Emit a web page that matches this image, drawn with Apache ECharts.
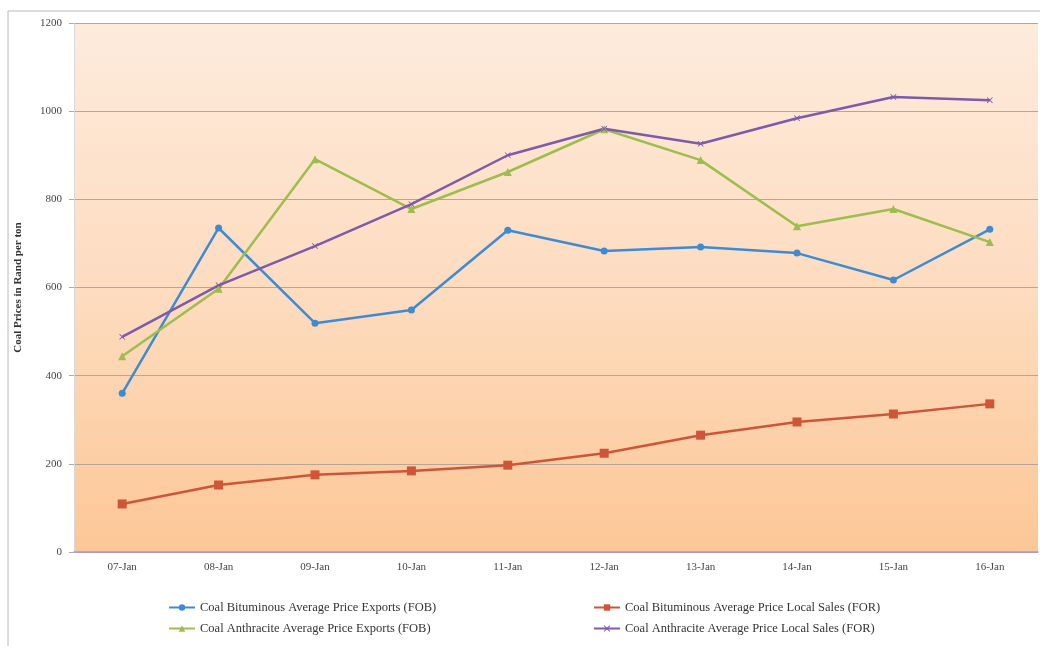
<!DOCTYPE html>
<html>
<head>
<meta charset="utf-8">
<script src="https://cdn.jsdelivr.net/npm/echarts@6/dist/echarts.min.js"></script>
<style>html,body{margin:0;padding:0;background:#fff}#c{width:1040px;height:646px}</style>
</head>
<body>
<div id="c"></div>
<script>
const categories = ['07-Jan','08-Jan','09-Jan','10-Jan','11-Jan','12-Jan','13-Jan','14-Jan','15-Jan','16-Jan'];
const bitExports = [360, 735, 519, 549, 730, 683, 692, 678, 617, 732];
const bitLocal = [109, 152, 175, 184, 197, 224, 265, 295, 313, 336];
const anthExports = [444, 597, 891, 778, 862, 959, 889, 739, 778, 703];
const anthLocal = [488, 605, 694, 789, 900, 960, 926, 984, 1032, 1025];
const yTicks = [0, 200, 400, 600, 800, 1000, 1200];

const names = [
  'Coal Bituminous Average Price Exports (FOB)',
  'Coal Bituminous Average Price Local Sales (FOR)',
  'Coal Anthracite Average Price Exports (FOB)',
  'Coal Anthracite Average Price Local Sales (FOR)'
];
const font = 'Liberation Serif';
const chart = echarts.init(document.getElementById('c'));
const xPath = 'path://M0,1L1,0L5,4L9,0L10,1L6,5L10,9L9,10L5,6L1,10L0,9L4,5Z';
function line(name, data, color, symbol, size) {
  return {
    name, type: 'line', data, symbol, symbolSize: size,
    lineStyle: { color, width: 2.5 },
    itemStyle: { color },
    z: 3
  };
}
chart.setOption({
  animation: false,
  backgroundColor: '#fff',
  textStyle: { fontFamily: font },
  graphic: [{
    type: 'polyline', silent: true,
    shape: { points: [[8, 646], [8, 11], [1040, 11]] },
    style: { stroke: '#b8b8b8', lineWidth: 1, fill: null }
  }],
  grid: { left: 74, right: 2, top: 23, bottom: 94, show: true, borderWidth: 0,
    backgroundColor: {
      type: 'linear', x: 0, y: 0, x2: 0, y2: 1,
      colorStops: [{ offset: 0, color: '#fdebdc' }, { offset: 0.5, color: '#fddcc0' }, { offset: 1, color: '#fcc796' }]
    }
  },
  legend: [{
    left: 163, top: 596, orient: 'vertical', itemGap: 8, itemWidth: 26, itemHeight: 8,
    textStyle: { fontFamily: font, fontSize: 12.5, color: '#333' },
    data: [names[0], names[2]]
  }, {
    left: 588, top: 596, orient: 'vertical', itemGap: 8, itemWidth: 26, itemHeight: 8,
    textStyle: { fontFamily: font, fontSize: 12.5, color: '#333' },
    data: [names[1], names[3]]
  }],
  xAxis: {
    type: 'category', data: categories, boundaryGap: true,
    axisLine: { lineStyle: { color: '#a89cc8', width: 1.5 } },
    axisTick: { show: false },
    axisLabel: { fontFamily: font, fontSize: 11, color: '#444', margin: 10 }
  },
  yAxis: {
    type: 'value', min: 0, max: 1200, interval: 200,
    name: 'Coal Prices in Rand per ton', nameLocation: 'middle', nameGap: 50,
    nameTextStyle: { fontFamily: font, fontSize: 11, fontWeight: 'bold', color: '#333' },
    axisLine: { show: true, lineStyle: { color: '#d8d8d8' } },
    axisTick: { show: true, length: 5, lineStyle: { color: '#aaa' } },
    axisLabel: { fontFamily: font, fontSize: 11, color: '#444', margin: 12,
      formatter: v => yTicks.includes(v) ? String(v) : '' },
    splitLine: { lineStyle: { color: '#b9a594', width: 1 } }
  },
  series: [
    line(names[0], bitExports, '#3f8bd2', 'circle', 7),
    line(names[1], bitLocal, '#cf5538', 'rect', 9),
    line(names[2], anthExports, '#9dbd4c', 'triangle', 8),
    line(names[3], anthLocal, '#7d5aaa', xPath, 6)
  ]
});
</script>
</body>
</html>
